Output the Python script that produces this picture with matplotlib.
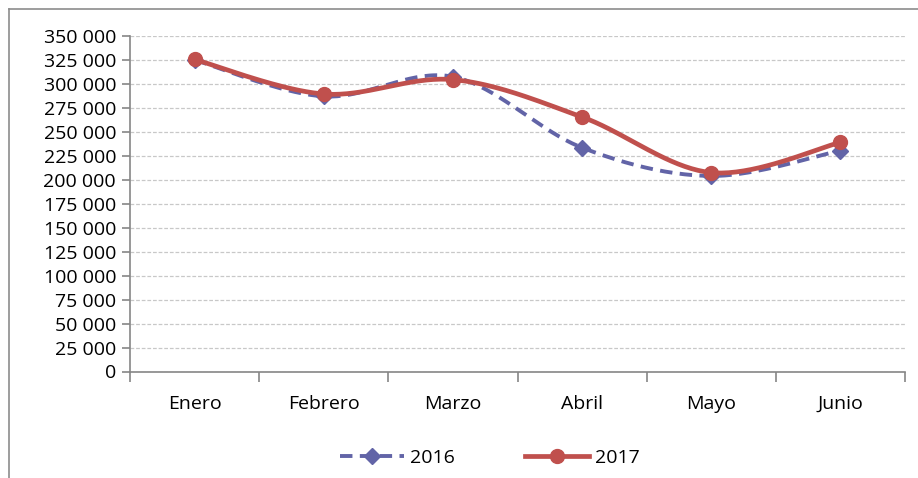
import numpy as np
import matplotlib
matplotlib.use("Agg")
import matplotlib.pyplot as plt
from matplotlib.lines import Line2D

meses = ["Enero", "Febrero", "Marzo", "Abril", "Mayo", "Junio"]
v2016 = [325000, 287000, 307500, 233500, 204000, 230500]
v2017 = [325500, 289500, 304500, 265500, 207500, 239000]
y_ticks = list(range(0, 350001, 25000))

plt.rcParams["font.family"] = ["Open Sans", "DejaVu Sans"]


def smooth(y, n=40):
    # bezier curve through the points, excel-like smoothing
    p = np.column_stack([np.arange(len(y)), np.array(y, float)])
    ext = np.vstack([p[0], p, p[-1]])
    xs, ys = [], []
    t = np.linspace(0, 1, n)[:, None]
    for i in range(len(p) - 1):
        p0, p1, p2, p3 = ext[i], ext[i + 1], ext[i + 2], ext[i + 3]
        c1 = p1 + (p2 - p0) / 6
        c2 = p2 - (p3 - p1) / 6
        b = (1 - t) ** 3 * p1 + 3 * (1 - t) ** 2 * t * c1 + 3 * (1 - t) * t ** 2 * c2 + t ** 3 * p2
        xs.append(b[:, 0])
        ys.append(b[:, 1])
    return np.concatenate(xs), np.concatenate(ys)


fig = plt.figure(figsize=(9.18, 4.78), dpi=100)
ax = fig.add_axes([130 / 918, 1 - 371.5 / 478, 775 / 918, 335.5 / 478])

c16 = "#6264A7"
c17 = "#C0504D"
x = np.arange(len(meses))

sx, sy = smooth(v2016)
ax.plot(sx, sy, color=c16, lw=2.8, dashes=(3.2, 1.9), zorder=3)
ax.plot(x, v2016, ls="none", marker="D", ms=8, color=c16, zorder=4)

sx, sy = smooth(v2017)
ax.plot(sx, sy, color=c17, lw=3.4, solid_capstyle="round", zorder=5)
ax.plot(x, v2017, ls="none", marker="o", ms=10, color=c17, zorder=6)

ax.set_xlim(-0.5, len(meses) - 0.5)
ax.set_ylim(0, 350000)
ax.set_yticks(y_ticks)
ax.set_yticklabels([f"{v:,}".replace(",", " ") for v in y_ticks])
ax.set_xticks(x)
ax.set_xticklabels(meses)
ax.set_xticks(np.arange(-0.5, len(meses)), minor=True)
ax.tick_params(axis="x", which="major", length=0, pad=17, labelsize=14)
ax.tick_params(axis="x", which="minor", length=7, color="#868686", width=1.2)
ax.tick_params(axis="y", length=6, color="#868686", width=1.2, labelsize=14, pad=4)

ax.grid(axis="y", color="#C8C8C8", lw=0.9, ls=(0, (3, 1.5)))
ax.set_axisbelow(True)
for s in ["top", "right"]:
    ax.spines[s].set_visible(False)
for s in ["left", "bottom"]:
    ax.spines[s].set_color("#868686")
    ax.spines[s].set_linewidth(1.2)

h16 = Line2D([], [], color=c16, lw=2.8, dashes=(3.2, 1.9), marker="D", ms=8)
h17 = Line2D([], [], color=c17, lw=3.4, marker="o", ms=10)
fig.legend([h16, h17], ["2016", "2017"], loc="center", bbox_to_anchor=(490 / 918, 1 - 458 / 478),
           ncol=2, frameon=False, fontsize=14, handlelength=3.3, columnspacing=3.6,
           handletextpad=0.3)

# chart border
fig.add_artist(Line2D([8.5 / 918, 8.5 / 918], [0, 1 - 8.5 / 478], color="#8C8C8C", lw=1.2))
fig.add_artist(Line2D([8.5 / 918, 1], [1 - 8.5 / 478, 1 - 8.5 / 478], color="#8C8C8C", lw=1.2))

fig.savefig("out.png", dpi=100)
